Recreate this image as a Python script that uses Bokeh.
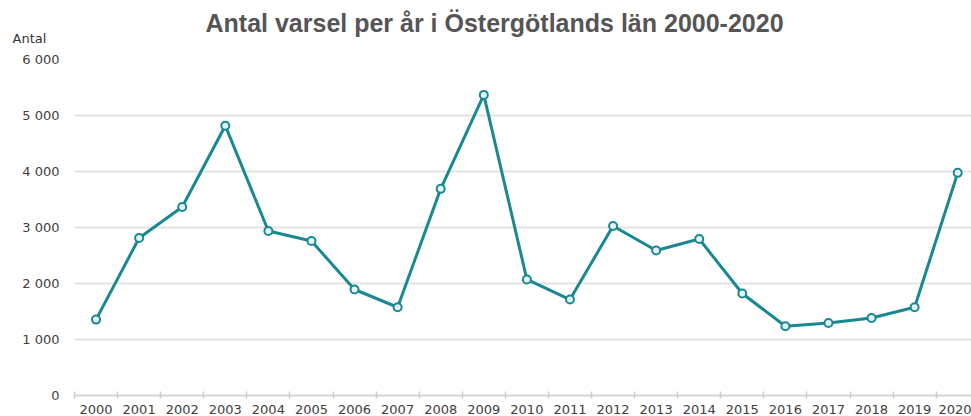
from bokeh.plotting import figure
from bokeh.models import Range1d, FixedTicker, Title, ColumnDataSource
from bokeh.embed import file_html
from bokeh.resources import INLINE

years = [2000, 2001, 2002, 2003, 2004, 2005, 2006, 2007, 2008, 2009, 2010,
         2011, 2012, 2013, 2014, 2015, 2016, 2017, 2018, 2019, 2020]
varsel = [1355, 2812, 3367, 4818, 2937, 2758, 1893, 1576, 3690, 5368, 2072,
          1714, 3027, 2590, 2794, 1822, 1236, 1295, 1385, 1576, 3976]
y_ticks = [0, 1000, 2000, 3000, 4000, 5000, 6000]
y_tick_labels = ["0", "1 000", "2 000", "3 000", "4 000", "5 000", "6 000"]

TEAL = "#1a8891"
FONT = "DejaVu Sans"

p = figure(width=971, height=416, output_backend="svg", toolbar_location=None,
           x_range=Range1d(years[0] - 0.5, years[-1] + 0.32),
           y_range=Range1d(0, 6000),
           min_border_left=74, min_border_right=0, min_border_top=59,
           min_border_bottom=0)
p.title = None
p.outline_line_color = None
p.background_fill_color = "white"
p.border_fill_color = "white"

p.add_layout(Title(text="Antal", align="left", offset=-62, text_font=FONT,
                   text_font_size="13px", text_font_style="normal",
                   text_color="#333333", standoff=28), "above")
p.add_layout(Title(text="Antal varsel per år  i Östergötlands län 2000-2020",
                   align="left", offset=131, text_font="Liberation Sans",
                   text_font_size="25px", text_font_style="bold",
                   text_color="#555555", standoff=-44), "above")

# x axis
p.xaxis.ticker = FixedTicker(ticks=years, minor_ticks=[y - 0.5 for y in years] + [years[-1] + 0.5])
p.xaxis.major_label_overrides = {y: str(y) for y in years}
p.xaxis.major_tick_in = 0
p.xaxis.major_tick_out = 0
p.xaxis.minor_tick_in = 4
p.xaxis.minor_tick_out = 3
p.xaxis.minor_tick_line_color = "#cccccc"
p.xaxis.minor_tick_line_width = 1.5
p.xaxis.axis_line_color = "#d4d4d4"
p.xaxis.axis_line_width = 2
p.xaxis.major_label_text_font = FONT
p.xaxis.major_label_text_font_size = "13px"
p.xaxis.major_label_text_color = "#404040"
p.xaxis.major_label_standoff = 6

# y axis
p.yaxis.ticker = FixedTicker(ticks=y_ticks)
p.yaxis.major_label_overrides = {t: l for t, l in zip(y_ticks, y_tick_labels)}
p.yaxis.axis_line_color = None
p.yaxis.major_tick_in = 0
p.yaxis.major_tick_out = 0
p.yaxis.minor_tick_in = 0
p.yaxis.minor_tick_out = 0
p.yaxis.major_tick_line_color = None
p.yaxis.minor_tick_line_color = None
p.yaxis.major_label_text_font = FONT
p.yaxis.major_label_text_font_size = "13px"
p.yaxis.major_label_text_color = "#404040"
p.yaxis.major_label_standoff = 15

p.xgrid.grid_line_color = None
p.ygrid.ticker = FixedTicker(ticks=y_ticks[1:])
p.ygrid.grid_line_color = "#e3e3e3"
p.ygrid.grid_line_width = 2

src = ColumnDataSource(dict(x=years, y=varsel))
p.line("x", "y", source=src, line_color=TEAL, line_width=3)
p.scatter("x", "y", source=src, size=8, fill_color="#e6f3f4", line_color=TEAL, line_width=2)

open("out.html", "w").write(file_html(p, INLINE))
